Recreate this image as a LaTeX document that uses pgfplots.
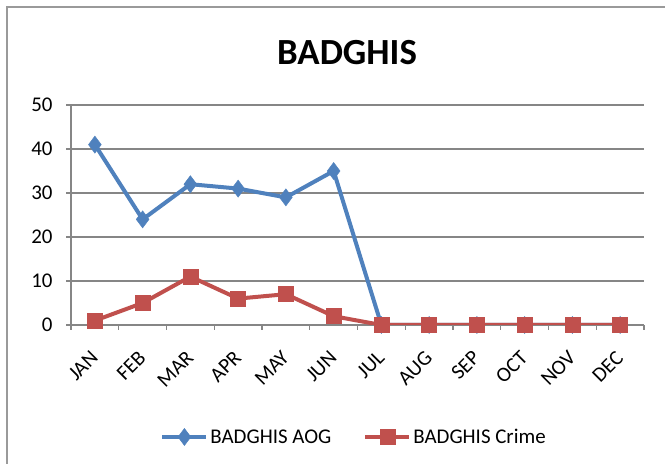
\documentclass[border=0pt]{standalone}
\usepackage{pgfplots}
\pgfplotsset{compat=1.18}
\usepackage{fontspec}
\setmainfont{Carlito}
\definecolor{aogblue}{HTML}{4F81BD}
\definecolor{crimered}{HTML}{C0504D}
\definecolor{gridgray}{HTML}{868686}
\definecolor{framegray}{HTML}{9A9A9A}
\begin{document}
\begin{tikzpicture}[x=1bp,y=1bp]
\useasboundingbox (0,0) rectangle (665,464);
\draw[framegray, line width=1.5bp] (7,0) -- (7,457) -- (665,457);
\node[font=\fontsize{37}{40}\selectfont\bfseries] at (347,411) {BADGHIS};
\begin{axis}[
  at={(71bp,139bp)}, anchor=south west,
  scale only axis, width=573bp, height=220bp,
  xmin=-0.5, xmax=11.5, ymin=0, ymax=50,
  axis lines*=left,
  axis line style={gridgray, line width=1.2bp},
  ytick={0,10,...,50},
  xtick={0,...,11},
  xticklabels={JAN,FEB,MAR,APR,MAY,JUN,JUL,AUG,SEP,OCT,NOV,DEC},
  minor xtick={-0.5,0.5,...,11.5},
  major x tick style={draw=none},
  tick align=outside,
  major tick length=5bp, minor tick length=5bp,
  y tick style={gridgray, line width=1.2bp},
  minor x tick style={gridgray, line width=1.2bp},
  ymajorgrids,
  grid style={gridgray, line width=1.2bp},
  tick label style={font=\fontsize{21}{24}\selectfont},
  /pgf/number format/assume math mode=true,
  xticklabel style={shift={(2bp,-22bp)}, rotate=45, anchor=east},
  yticklabel style={xshift=-10bp},
  legend columns=2,
  legend style={draw=none, fill=none, at={(0.494,-0.509)}, anchor=center,
    font=\fontsize{21}{24}\selectfont, /tikz/every even column/.append style={column sep=30bp}},
  legend image code/.code={\draw[#1, mark repeat=2, mark phase=2] plot coordinates {(0bp,0bp) (22bp,0bp) (44bp,0bp)};},
]
\addplot[aogblue, line width=4bp, mark=diamond*, mark size=8.5bp, mark options={solid, fill=aogblue, draw=aogblue, line width=0.5bp}]
  coordinates {(0,41) (1,24) (2,32) (3,31) (4,29) (5,35) (6,0) (7,0) (8,0) (9,0) (10,0) (11,0)};
\addlegendentry{BADGHIS AOG}
\addplot[crimered, line width=4bp, mark=square*, mark size=7.5bp, mark options={solid, fill=crimered, draw=crimered, line width=0.5bp}]
  coordinates {(0,1) (1,5) (2,11) (3,6) (4,7) (5,2) (6,0) (7,0) (8,0) (9,0) (10,0) (11,0)};
\addlegendentry{BADGHIS Crime}
\end{axis}
\end{tikzpicture}
\end{document}
